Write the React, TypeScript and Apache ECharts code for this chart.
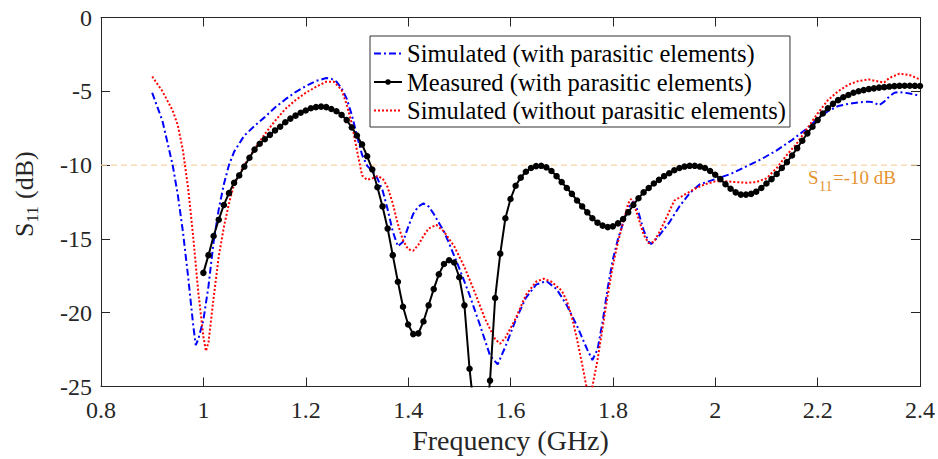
import React, { useEffect, useRef } from "react";
import * as echarts from "echarts";

// ---- data ----
const seriesNames = [
  "Simulated (with parasitic elements)",
  "Measured (with parasitic elements)",
  "Simulated (without parasitic elements)",
];

const xMin = 0.8;
const xMax = 2.4;
const xInterval = 0.2;
const yMin = -25;
const yMax = 0;
const yInterval = 5;
const thresholdDb = -10;

const simWithFreq = [
  0.9, 0.92, 0.94, 0.95, 0.96, 0.97, 0.98, 0.985, 0.99, 1.0, 1.01, 1.02, 1.03, 1.04, 1.05, 1.06, 1.08, 1.1,
  1.12, 1.14, 1.16, 1.18, 1.2, 1.22, 1.24, 1.25, 1.26, 1.27, 1.28, 1.29, 1.3, 1.31, 1.32, 1.33, 1.34, 1.35,
  1.36, 1.37, 1.38, 1.39, 1.4, 1.41, 1.42, 1.43, 1.44, 1.45, 1.46, 1.47, 1.48, 1.5, 1.52, 1.54, 1.56, 1.575,
  1.59, 1.61, 1.63, 1.65, 1.67, 1.69, 1.71, 1.73, 1.75, 1.76, 1.77, 1.78, 1.79, 1.8, 1.81, 1.82, 1.83, 1.84,
  1.85, 1.86, 1.87, 1.875, 1.89, 1.91, 1.93, 1.95, 1.97, 2.0, 2.03, 2.06, 2.09, 2.12, 2.15, 2.18, 2.2, 2.22,
  2.24, 2.26, 2.28, 2.3, 2.31, 2.32, 2.33, 2.34, 2.35, 2.36, 2.38, 2.4,
];
const simWithS11 = [
  -5.1, -7.0, -10.0, -12.0, -14.5, -17.5, -20.8, -22.2, -21.8, -20.5, -18.2, -15.2, -13.0, -11.3, -10.0, -9.1, -8.0, -7.35,
  -6.75, -6.1, -5.55, -5.05, -4.65, -4.3, -4.1, -4.15, -4.35, -4.8, -5.5, -6.6, -8.0, -9.3, -10.05, -10.4, -10.9, -11.7,
  -13.0, -14.5, -15.5, -15.2, -14.2, -13.3, -12.8, -12.6, -12.8, -13.3, -13.9, -14.5, -15.3, -17.0, -18.8, -20.8, -22.9, -23.5,
  -22.3, -20.5, -19.0, -18.1, -17.85, -18.4, -19.5, -20.9, -22.5, -23.2, -22.5, -20.6, -18.3, -16.4, -15.0, -13.9, -12.9, -12.45,
  -13.2, -14.4, -15.2, -15.35, -14.8, -13.9, -12.8, -11.9, -11.3, -10.95, -10.6, -10.1, -9.6, -9.0, -8.3, -7.5, -6.85, -6.35,
  -6.0, -5.85, -5.75, -5.7, -5.75, -5.95, -5.7, -5.35, -5.1, -5.05, -5.15, -5.3,
];

const simWithoutFreq = [
  0.9, 0.92, 0.94, 0.95, 0.96, 0.97, 0.98, 0.99, 1.0, 1.005, 1.01, 1.02, 1.03, 1.04, 1.05, 1.06, 1.08, 1.1,
  1.12, 1.14, 1.16, 1.18, 1.2, 1.22, 1.24, 1.255, 1.27, 1.28, 1.29, 1.3, 1.31, 1.32, 1.33, 1.34, 1.35, 1.36,
  1.37, 1.38, 1.39, 1.4, 1.41, 1.42, 1.43, 1.44, 1.455, 1.47, 1.49, 1.51, 1.53, 1.55, 1.57, 1.58, 1.59, 1.61,
  1.63, 1.65, 1.665, 1.68, 1.7, 1.71, 1.72, 1.73, 1.74, 1.75, 1.755, 1.76, 1.77, 1.78, 1.79, 1.8, 1.81, 1.82,
  1.83, 1.835, 1.84, 1.85, 1.86, 1.87, 1.88, 1.89, 1.9, 1.92, 1.94, 1.96, 1.98, 2.0, 2.02, 2.04, 2.06, 2.08,
  2.1, 2.12, 2.14, 2.16, 2.18, 2.2, 2.22, 2.24, 2.26, 2.28, 2.3, 2.32, 2.33, 2.34, 2.36, 2.38, 2.4,
];
const simWithoutS11 = [
  -4.0, -5.0, -6.3, -7.3, -9.0, -11.5, -14.8, -18.6, -21.6, -22.6, -22.0, -19.0, -16.2, -14.2, -12.6, -11.3, -10.0, -8.9,
  -7.9, -7.0, -6.2, -5.6, -5.1, -4.7, -4.35, -4.35, -4.9, -5.9, -7.2, -9.0, -10.7, -11.0, -10.9, -10.75, -10.9, -11.5,
  -12.6, -14.0, -15.1, -15.7, -15.8, -15.4, -14.8, -14.3, -14.05, -14.5, -15.5, -16.9, -18.6, -20.4, -21.8, -22.1, -21.7, -20.4,
  -18.8, -17.9, -17.7, -17.9, -18.5, -19.2, -20.3, -21.8, -23.5, -25.3, -25.6, -25.0, -23.2, -21.0, -18.8, -16.8, -15.2, -13.9,
  -12.6, -12.3, -12.5, -13.6, -14.7, -15.3, -15.2, -14.6, -13.9, -12.4, -12.0, -11.6, -11.3, -11.1, -11.1, -11.15, -11.2, -11.15,
  -10.9, -10.2, -9.3, -8.5, -7.5, -6.5, -5.6, -5.0, -4.55, -4.3, -4.2, -4.35, -4.4, -4.1, -3.8, -3.9, -4.2,
];

// measured: one sample every 0.01 GHz from 1.00 GHz to 2.40 GHz
const measuredStartGHz = 1.0;
const measuredStepGHz = 0.01;
const measuredS11 = [
  -17.3, -16.1, -14.8, -13.7, -12.7, -11.9, -11.2, -10.7, -10.1, -9.5,
  -8.95, -8.55, -8.25, -7.95, -7.65, -7.4, -7.1, -6.85, -6.65, -6.45,
  -6.3, -6.15, -6.07, -6.04, -6.07, -6.2, -6.35, -6.6, -6.95, -7.45,
  -8.0, -8.6, -9.4, -10.3, -11.5, -12.8, -14.3, -16.1, -17.9, -19.6,
  -20.8, -21.45, -21.4, -20.6, -19.5, -18.4, -17.4, -16.7, -16.45, -16.6,
  -17.6, -19.5, -23.8, -27.0, -30.0, -28.0, -24.6, -19.0, -16.0, -13.6,
  -12.3, -11.4, -10.85, -10.45, -10.2, -10.07, -10.05, -10.15, -10.4, -10.75,
  -11.15, -11.55, -11.95, -12.4, -12.8, -13.2, -13.6, -13.9, -14.1, -14.2,
  -14.15, -13.95, -13.65, -13.2, -12.7, -12.25, -11.85, -11.55, -11.25, -11.0,
  -10.75, -10.55, -10.35, -10.2, -10.1, -10.05, -10.05, -10.1, -10.2, -10.4,
  -10.65, -10.95, -11.3, -11.6, -11.85, -12.0, -12.0, -11.95, -11.8, -11.55,
  -11.25, -10.95, -10.6, -10.2, -9.8, -9.35, -8.85, -8.35, -7.85, -7.4,
  -6.95, -6.5, -6.15, -5.85, -5.6, -5.4, -5.25, -5.1, -5.0, -4.92,
  -4.85, -4.8, -4.75, -4.72, -4.68, -4.65, -4.63, -4.62, -4.62, -4.63,
  -4.64,
];

const FONT = "'Liberation Serif', 'Times New Roman', serif";
const AXIS_COLOR = "#262626";
const BLUE = "#0000FF";
const RED = "#FF0000";
const BLACK = "#000000";
const BLUE_DASH = [7, 3, 2, 3];
const RED_DOT = [2, 2];

export default function App() {
  const ref = useRef<HTMLDivElement | null>(null);

  useEffect(() => {
    if (!ref.current) return;
    const chart = echarts.init(ref.current, undefined, { renderer: "svg" });

    const simWithData = simWithFreq.map((f, i) => [f, simWithS11[i]]);
    const simWithoutData = simWithoutFreq.map((f, i) => [f, simWithoutS11[i]]);
    const measuredData = measuredS11.map((v, i) => [
      +(measuredStartGHz + i * measuredStepGHz).toFixed(2),
      v,
    ]);

    const fmtX = (v: number) => String(+v.toFixed(1));

    const option: any = {
      animation: false,
      backgroundColor: "#ffffff",
      grid: {
        left: 101,
        right: 18,
        top: 17.5,
        bottom: 72.5,
        containLabel: false,
        outerBoundsMode: "none",
      },
      legend: {
        data: [
          { name: seriesNames[0], itemStyle: { opacity: 0 } },
          { name: seriesNames[1] },
          { name: seriesNames[2], itemStyle: { opacity: 0 } },
        ],
        orient: "vertical",
        left: 370,
        top: 36,
        padding: [5, 4, 4, 3],
        itemWidth: 28,
        itemHeight: 7,
        itemGap: 3.5,
        backgroundColor: "#ffffff",
        borderColor: "#333333",
        borderWidth: 1,
        borderRadius: 0,
        textStyle: {
          fontFamily: FONT,
          fontSize: 24.5,
          lineHeight: 24,
          color: "#000000",
        },
      },
      xAxis: [
        {
          type: "value",
          min: xMin,
          max: xMax,
          interval: xInterval,
          position: "bottom",
          name: "Frequency (GHz)",
          nameLocation: "middle",
          nameGap: 39,
          nameTextStyle: { fontFamily: FONT, fontSize: 28, color: AXIS_COLOR },
          axisLine: { show: true, onZero: false, lineStyle: { color: AXIS_COLOR, width: 1 } },
          axisTick: { show: true, inside: true, length: 9, lineStyle: { color: AXIS_COLOR } },
          axisLabel: {
            fontFamily: FONT,
            fontSize: 24,
            color: AXIS_COLOR,
            margin: 11,
            formatter: fmtX,
            showMinLabel: true,
            showMaxLabel: true,
          },
          splitLine: { show: false },
        },
        {
          type: "value",
          min: xMin,
          max: xMax,
          interval: xInterval,
          position: "top",
          axisLine: { show: true, onZero: false, lineStyle: { color: AXIS_COLOR, width: 1 } },
          axisTick: { show: true, inside: true, length: 9, lineStyle: { color: AXIS_COLOR } },
          axisLabel: { show: false },
          splitLine: { show: false },
        },
      ],
      yAxis: [
        {
          type: "value",
          min: yMin,
          max: yMax,
          interval: yInterval,
          position: "left",
          axisLine: { show: true, onZero: false, lineStyle: { color: AXIS_COLOR, width: 1 } },
          axisTick: { show: true, inside: true, length: 9, lineStyle: { color: AXIS_COLOR } },
          axisLabel: {
            fontFamily: FONT,
            fontSize: 24,
            color: AXIS_COLOR,
            margin: 9,
            showMinLabel: true,
            showMaxLabel: true,
          },
          splitLine: { show: false },
        },
        {
          type: "value",
          min: yMin,
          max: yMax,
          interval: yInterval,
          position: "right",
          axisLine: { show: true, onZero: false, lineStyle: { color: AXIS_COLOR, width: 1 } },
          axisTick: { show: true, inside: true, length: 9, lineStyle: { color: AXIS_COLOR } },
          axisLabel: { show: false },
          splitLine: { show: false },
        },
      ],
      series: [
        {
          name: "threshold",
          type: "line",
          data: [
            [xMin, thresholdDb],
            [xMax, thresholdDb],
          ],
          symbol: "none",
          silent: true,
          z: 1,
          lineStyle: { color: "#F9D3A4", width: 1.3, type: [6, 4] },
        },
        {
          name: seriesNames[0],
          type: "line",
          data: simWithData,
          symbol: "none",
          z: 3,
          lineStyle: { color: BLUE, width: 2, type: BLUE_DASH },
          itemStyle: { color: BLUE },
        },
        {
          name: seriesNames[2],
          type: "line",
          data: simWithoutData,
          symbol: "none",
          z: 3,
          lineStyle: { color: RED, width: 2, type: RED_DOT },
          itemStyle: { color: RED },
        },
        {
          name: seriesNames[1],
          type: "line",
          data: measuredData,
          symbol: "circle",
          symbolSize: 6.5,
          showSymbol: true,
          z: 4,
          clip: true,
          lineStyle: { color: BLACK, width: 2 },
          itemStyle: { color: BLACK },
        },
      ],
      graphic: [
        // y-axis title: S11 (dB), rotated
        {
          type: "group",
          x: 24,
          y: 237,
          rotation: Math.PI / 2,
          children: [
            {
              type: "text",
              x: 0,
              y: 0,
              style: { text: "S", fontFamily: FONT, fontSize: 26, fill: AXIS_COLOR, align: "left", verticalAlign: "middle" },
            },
            {
              type: "text",
              x: 14.5,
              y: 8,
              style: { text: "11", fontFamily: FONT, fontSize: 17, fill: AXIS_COLOR, align: "left", verticalAlign: "middle" },
            },
            {
              type: "text",
              x: 31.5,
              y: 0,
              style: { text: " (dB)", fontFamily: FONT, fontSize: 26, fill: AXIS_COLOR, align: "left", verticalAlign: "middle" },
            },
          ],
        },
        // threshold annotation: S11=-10 dB
        {
          type: "group",
          x: 808,
          y: 177.5,
          children: [
            {
              type: "text",
              x: 0,
              y: 0,
              style: { text: "S", fontFamily: FONT, fontSize: 19, fill: "#E6932F", align: "left", verticalAlign: "middle" },
            },
            {
              type: "text",
              x: 11,
              y: 9,
              style: { text: "11", fontFamily: FONT, fontSize: 14, fill: "#E6932F", align: "left", verticalAlign: "middle" },
            },
            {
              type: "text",
              x: 25,
              y: 0,
              style: { text: "=-10 dB", fontFamily: FONT, fontSize: 19, fill: "#E6932F", align: "left", verticalAlign: "middle" },
            },
          ],
        },
      ],
    };

    chart.setOption(option);
    return () => {
      chart.dispose();
    };
  }, []);

  return (
    <div
      ref={ref}
      style={{ position: "fixed", left: 0, top: 0, width: 938, height: 459, background: "#ffffff" }}
    />
  );
}
